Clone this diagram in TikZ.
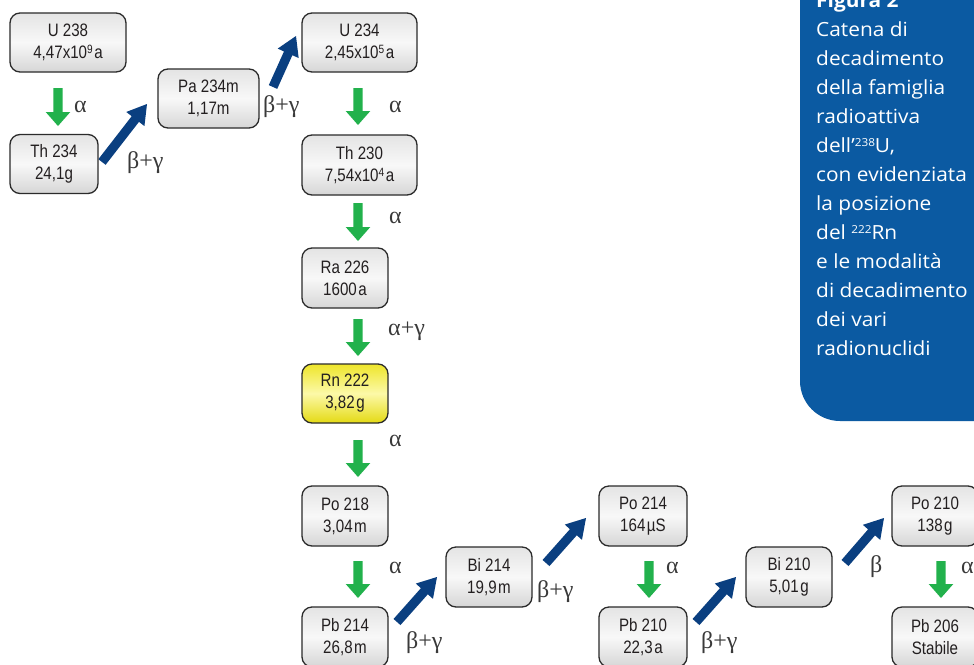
\documentclass[tikz,border=0pt]{standalone}
\usepackage{fontspec}
\setmainfont{Liberation Sans}
\newfontfamily\boxfont[FakeStretch=0.84]{Liberation Sans}
\newfontfamily\greekfont{Liberation Serif}
\newfontfamily\panelfont[FakeStretch=1.07]{Open Sans}
\usetikzlibrary{calc}
\definecolor{boxline}{HTML}{2B2B2B}
\definecolor{boxtext}{HTML}{231F20}
\definecolor{labtext}{HTML}{3A3A3A}
\definecolor{arrgreen}{HTML}{22B14C}
\definecolor{arrblue}{HTML}{0A3F80}
\definecolor{panelblue}{HTML}{0B5AA2}
\definecolor{gtop}{HTML}{E4E4E4}
\definecolor{gmid}{HTML}{F8F8F8}
\definecolor{gbot}{HTML}{D6D6D6}
\definecolor{ytop}{HTML}{EEE52A}
\definecolor{ymid}{HTML}{FCF9A8}
\definecolor{ybot}{HTML}{E4DA14}
\pgfdeclareverticalshading{boxgray}{100bp}{color(0bp)=(gbot); color(25bp)=(gbot); color(50bp)=(gmid); color(75bp)=(gtop); color(100bp)=(gtop)}
\pgfdeclareverticalshading{rnyellow}{100bp}{color(0bp)=(ybot); color(25bp)=(ybot); color(50bp)=(ymid); color(75bp)=(ytop); color(100bp)=(ytop)}
\newcommand{\myarrow}[6]{%
  \coordinate (arH) at ($(#3)!#6!(#2)$);
  \fill[#1] ($(#2)!#4!90:(#3)$) -- ($(arH)!#4!90:(#3)$) -- ($(arH)!#5!90:(#3)$) -- (#3)
    -- ($(arH)!#5!-90:(#3)$) -- ($(arH)!#4!-90:(#3)$) -- ($(#2)!#4!-90:(#3)$) -- cycle;
}
\newcommand{\greenarr}[2]{\myarrow{arrgreen}{#1}{#2}{4.6pt}{12.3pt}{14pt}}
\newcommand{\bluearr}[2]{\myarrow{arrblue}{#1}{#2}{4.6pt}{11.5pt}{19pt}}
\newcommand{\sups}[1]{\raisebox{0.62ex}{\fontsize{11}{11}\selectfont #1}}
\newcommand{\bsups}[1]{\raisebox{0.55ex}{\fontsize{12}{12}\selectfont #1}}
\tikzset{
  box/.style={draw=boxline, line width=1.3pt, rounded corners=10pt, shading=boxgray,
    minimum height=59pt, minimum width=86pt, inner sep=0pt, align=center,
    font=\boxfont\fontsize{18}{22}\selectfont, text=boxtext},
  rnbox/.style={box, shading=rnyellow},
  lab/.style={anchor=base west, inner sep=0pt, font=\greekfont\fontsize{24}{24}\selectfont, text=labtext},
}
\begin{document}
\begin{tikzpicture}[x=1pt,y=-1pt]
\useasboundingbox (0,0) rectangle (974,664);
\clip (0,0) rectangle (974,664);
\fill[white] (0,0) rectangle (974,664);
% side panel
\fill[panelblue] (800,-20) -- (800,381) arc[start angle=180, end angle=90, radius=40] -- (990,421) -- (990,-20) -- cycle;
\node[anchor=north west, align=left, inner sep=0pt, text=white,
  font=\panelfont\fontsize{19.5}{29}\selectfont] (caption) at (816,-7.5)
  {\textbf{Figura 2}\\Catena di\\decadimento\\della famiglia\\radioattiva\\dell’\sups{238}U,\\con evidenziata\\la posizione\\del \sups{222}Rn\\e le modalità\\di decadimento\\dei vari\\radionuclidi};
% arrow end points
\coordinate (g1s) at (58,88);  \coordinate (g1e) at (58,126);
\coordinate (g2s) at (358,88); \coordinate (g2e) at (358,125);
\coordinate (g3s) at (358,203); \coordinate (g3e) at (358,241);
\coordinate (g4s) at (358,319); \coordinate (g4e) at (358,356);
\coordinate (g5s) at (358,440); \coordinate (g5e) at (358,477);
\coordinate (g6s) at (358,561); \coordinate (g6e) at (358,598);
\coordinate (g7s) at (649,561); \coordinate (g7e) at (649,598);
\coordinate (g8s) at (941,561); \coordinate (g8e) at (941,598);
\coordinate (b1s) at (102,162); \coordinate (b1e) at (147,104);
\coordinate (b2s) at (273,87);  \coordinate (b2e) at (296,36);
\coordinate (b3s) at (397,622); \coordinate (b3e) at (437,577);
\coordinate (b4s) at (546,563); \coordinate (b4e) at (586,518);
\coordinate (b5s) at (696,622); \coordinate (b5e) at (736,577);
\coordinate (b6s) at (845,563); \coordinate (b6e) at (884,518);
\greenarr{g1s}{g1e}\greenarr{g2s}{g2e}\greenarr{g3s}{g3e}\greenarr{g4s}{g4e}
\greenarr{g5s}{g5e}\greenarr{g6s}{g6e}\greenarr{g7s}{g7e}\greenarr{g8s}{g8e}
\bluearr{b1s}{b1e}\bluearr{b2s}{b2e}\bluearr{b3s}{b3e}
\bluearr{b4s}{b4e}\bluearr{b5s}{b5e}\bluearr{b6s}{b6e}
% boxes
\node[box, minimum width=116pt] (u238) at (68,42.5) {U 238\\4,47x10\bsups{9}\kern1.5pt a};
\node[box, minimum width=88pt] (th234) at (54,164) {Th 234\\24,1g};
\node[box, minimum width=101pt] (pa234) at (208.5,98.5) {Pa 234m\\1,17m};
\node[box, minimum width=115pt] (u234) at (359.5,42.5) {U 234\\2,45x10\bsups{5}\kern1.5pt a};
\node[box, minimum width=115pt, minimum height=60pt] (th230) at (359.5,165) {Th 230\\7,54x10\bsups{4}\kern1.5pt a};
\node[box, minimum height=60pt] (ra226) at (345,278) {Ra 226\\1600\kern1.5pt a};
\node[rnbox] (rn222) at (345,393.5) {Rn 222\\3,82\kern1.5pt g};
\node[box, minimum height=60pt] (po218) at (345,516) {Po 218\\3,04\kern1.5pt m};
\node[box, minimum height=60pt] (pb214) at (345,637) {Pb 214\\26,8\kern1.5pt m};
\node[box, minimum height=60pt] (bi214) at (489,577) {Bi 214\\19,9\kern1.5pt m};
\node[box, minimum width=88pt, minimum height=60pt] (po214) at (643,516) {Po 214\\164\kern1.5pt µS};
\node[box, minimum width=88pt, minimum height=60pt] (pb210) at (643,637) {Pb 210\\22,3\kern1.5pt a};
\node[box, minimum height=60pt] (bi210) at (789,577) {Bi 210\\5,01\kern1.5pt g};
\node[box, minimum height=60pt] (po210) at (935,516) {Po 210\\138\kern1.5pt g};
\node[box, minimum height=60pt] (pb206) at (935,637) {Pb 206\\Stabile};
% labels
\node[lab] (l1) at (74,112) {α};
\node[lab] (l2) at (389,112) {α};
\node[lab] (l3) at (389,223) {α};
\node[lab] (l4) at (388,335) {α+γ};
\node[lab] (l5) at (389,446) {α};
\node[lab] (l6) at (389,573) {α};
\node[lab] (l7) at (666,573) {α};
\node[lab] (l8) at (961,573) {α};
\node[lab] (l9) at (127,168) {β+γ};
\node[lab] (l10) at (263,112) {β+γ};
\node[lab] (l11) at (406,648) {β+γ};
\node[lab] (l12) at (537,597) {β+γ};
\node[lab] (l13) at (701,648) {β+γ};
\node[lab] (l14) at (870,572) {β};
\end{tikzpicture}
\end{document}
